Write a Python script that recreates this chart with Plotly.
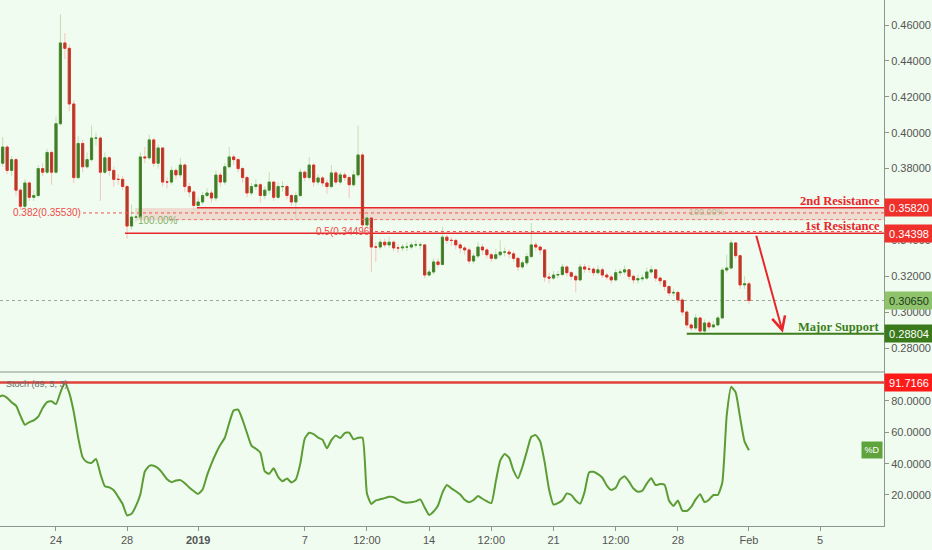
import pandas as pd
import plotly.graph_objects as go
from plotly.subplots import make_subplots

# ------------------------
# Data: 6h candles, first candle 2018-12-20 18:00
# ------------------------
first_time = "2018-12-20 18:00"
first_open = 0.380

closes = [
    0.383, 0.392, 0.379, 0.385, 0.368, 0.359, 0.372, 0.364, 0.365, 0.380,
    0.378, 0.389, 0.378, 0.405, 0.450, 0.447, 0.416, 0.375, 0.394, 0.381,
    0.385, 0.397, 0.397, 0.378, 0.386, 0.379, 0.374, 0.374, 0.370, 0.348,
    0.353, 0.353, 0.3865, 0.386, 0.396, 0.383, 0.3915, 0.3725, 0.3725, 0.379,
    0.3765, 0.382, 0.370, 0.367, 0.3595, 0.3614, 0.365, 0.3664, 0.3636, 0.3764,
    0.3725, 0.381, 0.3865, 0.385, 0.380, 0.375, 0.3664, 0.370, 0.371, 0.365,
    0.368, 0.3725, 0.364, 0.370, 0.370, 0.365, 0.3614, 0.365, 0.378, 0.375,
    0.382, 0.3725, 0.3748, 0.372, 0.370, 0.3776, 0.3725, 0.3765, 0.375, 0.371,
    0.3765, 0.3876, 0.3486, 0.3525, 0.3363, 0.3363, 0.339, 0.3375, 0.339, 0.3358,
    0.3358, 0.3363, 0.3363, 0.3375, 0.3375, 0.3375, 0.3207, 0.3224, 0.328, 0.3266,
    0.3418, 0.340, 0.340, 0.3375, 0.3358, 0.3347, 0.3285, 0.3313, 0.3363, 0.3347,
    0.332, 0.330, 0.332, 0.3335, 0.3335, 0.3325, 0.330, 0.3252, 0.3275, 0.331,
    0.3375, 0.3363, 0.3347, 0.3196, 0.319, 0.3207, 0.321, 0.3252, 0.322, 0.320,
    0.318, 0.3252, 0.324, 0.324, 0.322, 0.3236, 0.3207, 0.3196, 0.318, 0.322,
    0.3224, 0.3236, 0.320, 0.318, 0.3186, 0.319, 0.3224, 0.3236, 0.319, 0.3175,
    0.3143, 0.3107, 0.311, 0.3068, 0.3001, 0.2929, 0.2912, 0.2968, 0.2895, 0.294,
    0.2918, 0.2929, 0.2968, 0.3235, 0.3246, 0.3386, 0.3315, 0.3152, 0.3158, 0.3065,
]

highs = [
    0.386, 0.3976, 0.393, 0.387, 0.386, 0.369, 0.374, 0.373, 0.368, 0.382,
    0.383, 0.391, 0.390, 0.409, 0.466, 0.4555, 0.449, 0.418, 0.398, 0.396,
    0.389, 0.404, 0.400, 0.398, 0.389, 0.387, 0.381, 0.377, 0.376, 0.371,
    0.360, 0.358, 0.389, 0.392, 0.399, 0.397, 0.3935, 0.392, 0.375, 0.381,
    0.380, 0.386, 0.383, 0.372, 0.368, 0.364, 0.367, 0.369, 0.368, 0.379,
    0.378, 0.383, 0.392, 0.388, 0.386, 0.381, 0.376, 0.372, 0.374, 0.372,
    0.370, 0.378, 0.373, 0.372, 0.373, 0.371, 0.366, 0.367, 0.380, 0.379,
    0.3865, 0.383, 0.377, 0.376, 0.374, 0.382, 0.379, 0.378, 0.378, 0.376,
    0.379, 0.404, 0.389, 0.355, 0.353, 0.339, 0.341, 0.341, 0.342, 0.340,
    0.338, 0.338, 0.339, 0.339, 0.340, 0.339, 0.338, 0.324, 0.330, 0.330,
    0.3475, 0.343, 0.342, 0.341, 0.339, 0.337, 0.336, 0.333, 0.339, 0.338,
    0.336, 0.333, 0.335, 0.340, 0.336, 0.335, 0.334, 0.331, 0.329, 0.333,
    0.3497, 0.339, 0.337, 0.335, 0.322, 0.323, 0.323, 0.327, 0.326, 0.323,
    0.321, 0.327, 0.327, 0.326, 0.325, 0.326, 0.325, 0.322, 0.321, 0.324,
    0.324, 0.326, 0.324, 0.321, 0.321, 0.321, 0.325, 0.326, 0.324, 0.320,
    0.318, 0.315, 0.313, 0.312, 0.308, 0.301, 0.294, 0.299, 0.297, 0.296,
    0.295, 0.295, 0.298, 0.325, 0.332, 0.3405, 0.339, 0.332, 0.320, 0.317,
]

lows = [
    0.378, 0.381, 0.377, 0.376, 0.365, 0.357, 0.358, 0.362, 0.362, 0.364,
    0.376, 0.377, 0.371, 0.377, 0.404, 0.441, 0.412, 0.372, 0.374, 0.378,
    0.380, 0.384, 0.393, 0.362, 0.377, 0.376, 0.370, 0.371, 0.368, 0.341,
    0.346, 0.350, 0.352, 0.383, 0.385, 0.381, 0.380, 0.370, 0.369, 0.371,
    0.374, 0.375, 0.367, 0.364, 0.357, 0.358, 0.360, 0.364, 0.361, 0.362,
    0.370, 0.371, 0.380, 0.382, 0.378, 0.372, 0.364, 0.365, 0.368, 0.361,
    0.363, 0.366, 0.362, 0.363, 0.367, 0.363, 0.359, 0.352, 0.364, 0.373,
    0.374, 0.370, 0.371, 0.370, 0.366, 0.369, 0.371, 0.371, 0.373, 0.3636,
    0.370, 0.375, 0.346, 0.347, 0.3224, 0.328, 0.335, 0.336, 0.336, 0.334,
    0.333, 0.334, 0.334, 0.335, 0.336, 0.335, 0.319, 0.320, 0.321, 0.325,
    0.326, 0.338, 0.337, 0.335, 0.333, 0.332, 0.327, 0.327, 0.330, 0.332,
    0.330, 0.328, 0.329, 0.331, 0.331, 0.330, 0.328, 0.323, 0.324, 0.326,
    0.330, 0.334, 0.332, 0.317, 0.316, 0.318, 0.319, 0.320, 0.320, 0.318,
    0.311, 0.317, 0.322, 0.322, 0.320, 0.321, 0.319, 0.318, 0.316, 0.317,
    0.320, 0.321, 0.318, 0.316, 0.316, 0.317, 0.318, 0.321, 0.317, 0.315,
    0.312, 0.309, 0.309, 0.305, 0.298, 0.291, 0.2895, 0.290, 0.2880, 0.2885,
    0.290, 0.291, 0.292, 0.296, 0.322, 0.324, 0.330, 0.313, 0.313, 0.3045,
]

# Stoch (89, 5, 3) %D, same 6h steps
stoch_d = [
    82.5, 83.5, 82, 79.2, 77, 70.5, 64.8, 66.5, 67.6, 70,
    75.5, 79.3, 79.8, 78, 85.5, 91.7, 85, 73, 56.5, 44,
    41, 40.5, 43, 33.5, 25.6, 24.8, 23, 18.8, 14.2, 7,
    8, 13, 20.5, 35, 38.6, 38.7, 37, 33.8, 30, 28.2,
    29.2, 29.5, 27.5, 24.8, 22.5, 20.7, 23.5, 32.5, 40, 46.5,
    52, 56.5, 66, 74, 74.5, 68, 59.5, 51.5, 49.5, 47,
    35, 33.5, 37, 31.5, 28.8, 30.5, 28, 30, 40, 56,
    59.7, 58.8, 56.6, 55.3, 49.8, 55, 58, 56.3, 59.5, 59.8,
    55.5, 56.5, 56.5, 21, 14.3, 16.5, 17.3, 18, 18.8, 18.6,
    16.8, 15.5, 15.1, 15.4, 15.9, 17.2, 12, 7.3, 9.5, 13.3,
    21.5, 26.4, 24.2, 22.4, 20.3, 16.9, 15.4, 16.8, 19.4, 17.6,
    16, 14.8, 28.5, 41.9, 46.2, 43.8, 35.5, 30.6, 38, 47.8,
    57.2, 58.2, 54.2, 41, 23.5, 13.9, 14.8, 16.6, 21, 20,
    16.5, 14.5, 22, 34.4, 34.8, 33.3, 31, 26, 23.2, 24.6,
    29.9, 32, 28.5, 24.1, 22.1, 22.7, 27.3, 30.6, 26.3, 27,
    26.6, 16.5, 13, 16.5, 10, 9.8, 12.4, 17.2, 20.5, 15.5,
    17, 20, 20, 28, 71, 89, 85.5, 69.5, 54.2, 48.5,
]

# Levels drawn on the chart
res_2nd = 0.35820
res_1st = 0.34398
support = 0.28804
last_price = 0.30650
fib_382 = 0.35530
fib_50 = 0.34496
fib_100 = 0.3516
stoch_level = 91.7166

# 0.36000 sits fully under the 0.35820 tag, so it is not listed
price_ticks = [0.28, 0.30, 0.32, 0.34, 0.38, 0.40, 0.42, 0.44, 0.46]
stoch_ticks = [20, 40, 60, 80]
x_tick_vals = ["2018-12-24", "2018-12-28", "2019-01-01", "2019-01-07",
               "2019-01-10 12:00", "2019-01-14", "2019-01-17 12:00", "2019-01-21",
               "2019-01-24 12:00", "2019-01-28", "2019-02-01", "2019-02-05"]
x_tick_text = ["24", "28", "<b>2019</b>", "7", "12:00", "14", "12:00", "21",
               "12:00", "28", "Feb", "5"]

# ------------------------
# Derived series
# ------------------------
times = pd.date_range(first_time, periods=len(closes), freq="6h")
opens = [first_open] + closes[:-1]
body_hi = [max(o, c) for o, c in zip(opens, closes)]
body_lo = [min(o, c) for o, c in zip(opens, closes)]

x_start = "2018-12-20 20:22"
x_end = "2019-02-08 14:24"

BG = "#effcef"
AXIS = "#8c968c"
RED = "#e8262b"
GREEN = "#3d7d1c"

fig = make_subplots(rows=2, cols=1, shared_xaxes=True, vertical_spacing=0,
                    row_heights=[0.7072, 0.2928])

# faint wicks
fig.add_trace(go.Candlestick(
    x=times, open=opens, high=highs, low=lows, close=closes,
    increasing=dict(line=dict(color="#c2dfb4", width=1), fillcolor="#c2dfb4"),
    decreasing=dict(line=dict(color="#f5c4be", width=1), fillcolor="#f5c4be"),
    whiskerwidth=0, hoverinfo="skip", showlegend=False
), row=1, col=1)

# bodies
fig.add_trace(go.Candlestick(
    x=times, open=opens, high=body_hi, low=body_lo, close=closes,
    increasing=dict(line=dict(color="#3f8f2f", width=1), fillcolor="#56682a"),
    decreasing=dict(line=dict(color="#e3302a", width=1), fillcolor="#8a4a2a"),
    whiskerwidth=0, hoverinfo="skip", showlegend=False
), row=1, col=1)

fig.add_trace(go.Scatter(
    x=times, y=stoch_d, mode="lines",
    line=dict(color="#5c9c34", width=2, shape="spline", smoothing=0.5),
    hoverinfo="skip", showlegend=False
), row=2, col=1)

# ------------------------
# Shapes
# ------------------------
shapes = [
    # fib band
    dict(type="rect", xref="x", yref="y", x0="2018-12-28 12:30", x1=x_end,
         y0=0.3512, y1=0.3580, fillcolor="rgba(240,80,70,0.18)", line_width=0, layer="below"),
    dict(type="line", xref="x", yref="y", x0="2018-12-25 12:28", x1=x_end,
         y0=fib_382, y1=fib_382, line=dict(color="#ef5350", width=1, dash="dot")),
    dict(type="line", xref="x", yref="y", x0="2018-12-30 10:00", x1=x_end,
         y0=fib_100, y1=fib_100, line=dict(color="#ef7a70", width=1, dash="dot")),
    dict(type="line", xref="x", yref="y", x0="2019-01-10 22:50", x1=x_end,
         y0=fib_50, y1=fib_50, line=dict(color="#ef5350", width=1, dash="dot")),
    # resistance / support
    dict(type="line", xref="x", yref="y", x0="2018-12-31 22:20", x1=x_end,
         y0=res_2nd, y1=res_2nd, line=dict(color=RED, width=1.5)),
    dict(type="line", xref="x", yref="y", x0="2018-12-27 21:10", x1=x_end,
         y0=res_1st, y1=res_1st, line=dict(color=RED, width=1.5)),
    dict(type="line", xref="x", yref="y", x0="2019-01-28 12:00", x1=x_end,
         y0=support, y1=support, line=dict(color=GREEN, width=2)),
    # last price
    dict(type="line", xref="x", yref="y", x0=x_start, x1=x_end,
         y0=last_price, y1=last_price, line=dict(color="#9aa89a", width=1, dash="dot"),
         layer="below"),
    # stoch level
    dict(type="line", xref="x", yref="y2", x0=x_start, x1=x_end,
         y0=stoch_level, y1=stoch_level, line=dict(color="#e0413a", width=2.5)),
    # pane separator
    dict(type="line", xref="paper", yref="paper", x0=0, x1=1, y0=0.2928, y1=0.2928,
         line=dict(color=AXIS, width=1)),
]

# ------------------------
# Annotations
# ------------------------
def axis_tag(y, text, bg, fg, yref="y"):
    return dict(xref="paper", x=1, xanchor="left", yref=yref, y=y, text=text,
                showarrow=False, bgcolor=bg, font=dict(color=fg, size=11),
                width=46, height=15, borderpad=1, align="center")

label_font = dict(family="Liberation Serif", size=12.5)
annotations = [
    axis_tag(res_2nd, "0.35820", "#f0302a", "white"),
    axis_tag(res_1st, "0.34398", "#f0302a", "white"),
    axis_tag(last_price, "0.30650", "#8fc46c", "#1e3a1e"),
    axis_tag(support, "0.28804", "#3a7a1a", "white"),
    axis_tag(stoch_level, "91.7166", "#ff1a1a", "white", yref="y2"),
    dict(xref="paper", x=1, xshift=-2, xanchor="right", yref="y", y=res_2nd,
         yanchor="bottom", yshift=-2, text="<b>2nd Resistance</b>", showarrow=False,
         font=dict(color=RED, **label_font)),
    dict(xref="paper", x=1, xshift=-2, xanchor="right", yref="y", y=res_1st,
         yanchor="bottom", yshift=-2, text="<b>1st Resistance</b>", showarrow=False,
         font=dict(color=RED, **label_font)),
    dict(xref="paper", x=1, xshift=-2, xanchor="right", yref="y", y=support,
         yanchor="bottom", yshift=-2, text="<b>Major Support</b>", showarrow=False,
         font=dict(color=GREEN, **label_font)),
    dict(xref="x", x="2018-12-25 12:28", xanchor="right", yref="y", y=fib_382,
         text="0.382(0.35530)", showarrow=False, font=dict(color="#ef4a4a", size=10)),
    dict(xref="x", x="2018-12-28 12:30", xanchor="left", yref="y", y=fib_100 - 0.0003,
         text="100.00%", showarrow=False, font=dict(color="#86b06a", size=10)),
    dict(xref="x", x="2019-01-10 22:50", xanchor="right", yref="y", y=fib_50,
         text="0.5(0.34496)", showarrow=False, font=dict(color="#ef4a4a", size=10)),
    dict(xref="x", x="2019-01-28 12:00", xanchor="left", yref="y", y=0.3558,
         text="100.00%", showarrow=False, font=dict(color="rgba(130,170,100,0.6)", size=9)),
    # projected move
    dict(xref="x", yref="y", x="2019-02-02 21:50", y=0.2886,
         axref="x", ayref="y", ax="2019-02-01 09:22", ay=0.3434,
         text="", showarrow=True, arrowhead=5, arrowsize=1.3, arrowwidth=2,
         arrowcolor=RED, standoff=0),
    dict(xref="paper", x=0.005, xanchor="left", yref="y2", y=90.8,
         text="Stoch (89, 5, 3)", showarrow=False, font=dict(color="#6b6b6b", size=9)),
    dict(xref="paper", x=0.999, xanchor="right", yref="y2", y=48.5, text="%D",
         showarrow=False, bgcolor="#5fa33d", font=dict(color="white", size=9),
         width=18, height=14, borderpad=1),
]

fig.update_layout(
    width=932, height=550,
    margin=dict(l=0, r=48, t=0, b=24),
    plot_bgcolor=BG, paper_bgcolor=BG,
    font=dict(family="Liberation Sans", color="#555555"),
    showlegend=False,
    shapes=shapes,
    annotations=annotations,
    hovermode=False,
)

fig.update_xaxes(type="date", range=[x_start, x_end], showgrid=False, zeroline=False,
                 rangeslider_visible=False)
fig.update_xaxes(showticklabels=False, ticks="", row=1, col=1)
fig.update_xaxes(tickvals=x_tick_vals, ticktext=x_tick_text, ticks="outside", ticklen=4,
                 tickcolor=AXIS, showline=True, linecolor=AXIS, linewidth=1,
                 tickfont=dict(size=11, color="#555555"), row=2, col=1)

fig.update_yaxes(side="right", showgrid=False, zeroline=False, showline=True,
                 linecolor=AXIS, linewidth=1, ticks="outside", ticklen=4, tickcolor=AXIS,
                 tickfont=dict(size=11, color="#555555"))
fig.update_yaxes(range=[0.26669, 0.47393], tickvals=price_ticks, tickformat=".5f",
                 row=1, col=1)
fig.update_yaxes(range=[0.2, 98.5], tickvals=stoch_ticks, tickformat=".4f",
                 row=2, col=1)

# the page's default body margin would shift the figure by 8px
fig.write_html("out.html", config={"displayModeBar": False},
               post_script="document.body.style.margin='0px';")
